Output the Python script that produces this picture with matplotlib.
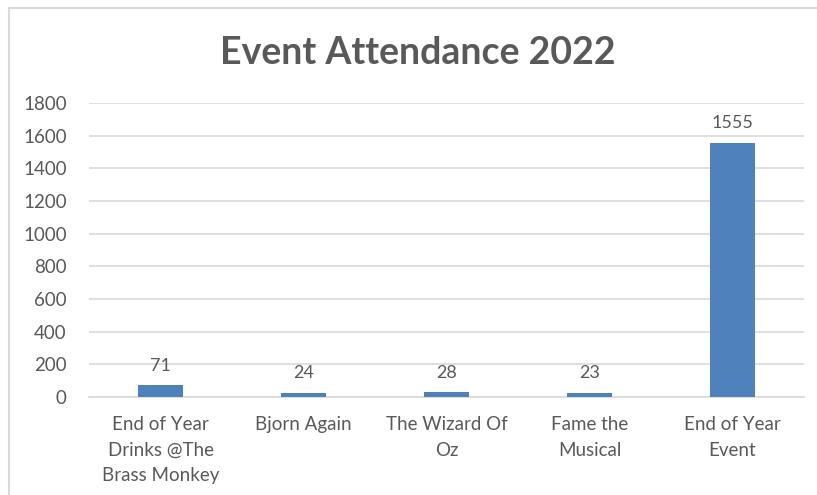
import matplotlib.pyplot as plt
from matplotlib.patches import Rectangle

events = ["End of Year\nDrinks @The\nBrass Monkey", "Bjorn Again", "The Wizard Of\nOz",
          "Fame the\nMusical", "End of Year\nEvent"]
attendance = [71, 24, 28, 23, 1555]

plt.rcParams['font.family'] = ['Lato', 'DejaVu Sans']
text_col = '#595959'

fig = plt.figure(figsize=(8.17, 4.95), dpi=100)
ax = fig.add_axes([89 / 817, 1 - 397 / 495, 715 / 817, 294 / 495])

# light chart-area border, open on the right and bottom like the cropped screenshot
fig.patches.append(Rectangle((9 / 817, -0.1), 1.2, 1 - 8 / 495 + 0.1, transform=fig.transFigure,
                             fill=False, edgecolor='#D9D9D9', lw=1.5))

x = range(len(events))
bars = ax.bar(x, attendance, width=0.31, color='#4F81BD', zorder=3)
for b, v in zip(bars, attendance):
    ax.annotate(str(v), (b.get_x() + b.get_width() / 2, v), xytext=(0, 8.5),
                textcoords='offset points', ha='center', va='bottom',
                fontsize=13, color=text_col)

ax.set_xlim(-0.5, len(events) - 0.5)
ax.set_ylim(0, 1800)
ax.set_yticks(range(0, 1801, 200))
ax.set_xticks(list(x))
ax.set_xticklabels(events, linespacing=1.6)
ax.tick_params(axis='both', length=0, labelsize=13.5, colors=text_col)
ax.tick_params(axis='y', pad=16)
ax.tick_params(axis='x', pad=14)
ax.grid(axis='y', color='#D9D9D9', lw=1.2, zorder=0)
for s in ['top', 'right', 'left']:
    ax.spines[s].set_visible(False)
ax.spines['bottom'].set_color('#D9D9D9')
ax.spines['bottom'].set_linewidth(1.2)

fig.text(418 / 817, 1 - 53 / 495, "Event Attendance 2022", ha='center', va='center',
         fontsize=27, fontweight='bold', color=text_col)

fig.savefig("out.png", dpi=100)
